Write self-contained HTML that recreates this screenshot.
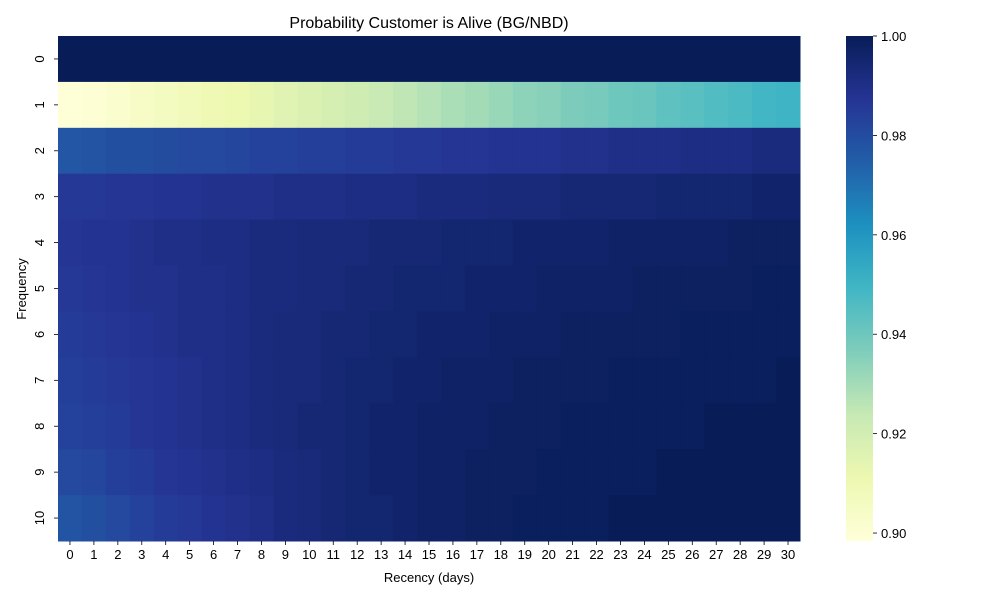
<!DOCTYPE html>
<html><head><meta charset="utf-8"><style>
body{margin:0;background:#fff;font-family:"Liberation Sans","DejaVu Sans",sans-serif}
</style></head><body>
<svg id="chart" width="1000" height="600" xmlns="http://www.w3.org/2000/svg" font-family="Liberation Sans, DejaVu Sans, sans-serif">
<text x="429" y="28" font-size="16" text-anchor="middle">Probability Customer is Alive (BG/NBD)</text>
<g id="cells"></g>
<g id="xaxis"></g>
<g id="yaxis"></g>
<text x="429" y="582" font-size="13" text-anchor="middle">Recency (days)</text>
<text transform="translate(26,289) rotate(-90)" font-size="13" text-anchor="middle">Frequency</text>
<defs><linearGradient id="cbg" x1="0" y1="1" x2="0" y2="0">
<stop offset="0" stop-color="#ffffd9"/><stop offset="0.125" stop-color="#edf8b1"/><stop offset="0.25" stop-color="#c7e9b4"/><stop offset="0.375" stop-color="#7fcdbb"/><stop offset="0.5" stop-color="#41b6c4"/><stop offset="0.625" stop-color="#1d91c0"/><stop offset="0.75" stop-color="#225ea8"/><stop offset="0.875" stop-color="#253494"/><stop offset="1" stop-color="#081d58"/>
</linearGradient></defs>
<rect x="846" y="36" width="27" height="505" fill="url(#cbg)"/>
<g id="cbticks"></g>
</svg>
<script>
const rowLabels=["0","1","2","3","4","5","6","7","8","9","10"];
const colLabels=Array.from({length:31},(_,i)=>String(i));
const cbTicks=[0.90,0.92,0.94,0.96,0.98,1.00];
const row0=[1,1,1,1,1,1,1,1,1,1,1,1,1,1,1,1,1,1,1,1,1,1,1,1,1,1,1,1,1,1,1];
const row1=[0.899,0.900,0.902,0.904,0.906,0.908,0.910,0.911,0.913,0.915,0.917,0.919,0.921,0.923,0.925,0.927,0.929,0.930,0.932,0.934,0.935,0.937,0.938,0.940,0.941,0.943,0.944,0.946,0.947,0.949,0.950];
const row2=[0.977,0.978,0.979,0.979,0.980,0.981,0.981,0.982,0.983,0.983,0.984,0.984,0.985,0.985,0.986,0.986,0.987,0.987,0.988,0.988,0.988,0.989,0.989,0.990,0.990,0.990,0.991,0.991,0.991,0.992,0.992];
const row3=[0.986,0.986,0.987,0.987,0.988,0.988,0.989,0.989,0.989,0.990,0.990,0.990,0.991,0.991,0.991,0.992,0.992,0.992,0.993,0.993,0.993,0.994,0.994,0.994,0.994,0.995,0.995,0.995,0.995,0.996,0.996];
const row4=[0.987,0.988,0.988,0.989,0.990,0.990,0.991,0.991,0.992,0.992,0.993,0.993,0.993,0.994,0.994,0.994,0.995,0.995,0.995,0.996,0.996,0.996,0.996,0.997,0.997,0.997,0.997,0.997,0.998,0.998,0.998];
const row5=[0.986,0.987,0.988,0.989,0.989,0.990,0.990,0.991,0.992,0.992,0.993,0.993,0.994,0.994,0.995,0.995,0.995,0.996,0.996,0.996,0.997,0.997,0.997,0.997,0.998,0.998,0.998,0.998,0.998,0.999,0.999];
const row6=[0.985,0.986,0.987,0.988,0.989,0.990,0.990,0.991,0.992,0.993,0.993,0.994,0.994,0.995,0.995,0.996,0.996,0.996,0.997,0.997,0.997,0.998,0.998,0.998,0.998,0.998,0.999,0.999,0.999,0.999,0.999];
const row7=[0.984,0.985,0.986,0.987,0.988,0.989,0.990,0.991,0.992,0.993,0.993,0.994,0.995,0.995,0.996,0.996,0.997,0.997,0.997,0.998,0.998,0.998,0.998,0.999,0.999,0.999,0.999,0.999,0.999,0.999,1.000];
const row8=[0.983,0.984,0.985,0.987,0.988,0.989,0.990,0.991,0.992,0.993,0.994,0.994,0.995,0.996,0.996,0.997,0.997,0.997,0.998,0.998,0.998,0.999,0.999,0.999,0.999,0.999,0.999,1.000,1.000,1.000,1.000];
const row9=[0.981,0.982,0.984,0.985,0.987,0.988,0.989,0.990,0.991,0.992,0.993,0.994,0.995,0.996,0.996,0.997,0.997,0.998,0.998,0.998,0.999,0.999,0.999,0.999,0.999,1.000,1.000,1.000,1.000,1.000,1.000];
const row10=[0.978,0.979,0.981,0.983,0.985,0.986,0.988,0.989,0.990,0.992,0.993,0.994,0.995,0.995,0.996,0.997,0.997,0.998,0.998,0.999,0.999,0.999,0.999,1.000,1.000,1.000,1.000,1.000,1.000,1.000,1.000];
const values=[row0,row1,row2,row3,row4,row5,row6,row7,row8,row9,row10];
const vmin=0.8984, vmax=1.0;
const X0=58,X1=800,Y0=36,Y1=541;
const cw=(X1-X0)/colLabels.length, ch=(Y1-Y0)/rowLabels.length;
const xPos=i=>X0+i*cw, yPos=j=>Y0+j*ch;
const cbY=v=>Y1-(v-vmin)/(vmax-vmin)*(Y1-Y0);
const stops=["#ffffd9","#edf8b1","#c7e9b4","#7fcdbb","#41b6c4","#1d91c0","#225ea8","#253494","#081d58"].map(h=>[1,3,5].map(k=>parseInt(h.substr(k,2),16)));
function color(v){let t=Math.max(0,Math.min(1,(v-vmin)/(vmax-vmin)))*8;let i=Math.min(7,Math.floor(t)),f=t-i;
const c=stops[i].map((a,k)=>Math.round(a+(stops[i+1][k]-a)*f));return `rgb(${c})`;}
const NS="http://www.w3.org/2000/svg";
function mk(tag,attrs,parent){const e=document.createElementNS(NS,tag);for(const k in attrs)e.setAttribute(k,attrs[k]);parent.appendChild(e);return e;}
const cells=document.getElementById('cells');
values.forEach((row,j)=>row.forEach((v,i)=>{
const r=mk('rect',{x:xPos(i),y:yPos(j),width:cw+0.5,height:ch+0.5,fill:color(v)},cells);


}));
const xa=document.getElementById('xaxis');
colLabels.forEach((l,i)=>{const cx=xPos(i)+cw/2;
mk('line',{x1:cx,x2:cx,y1:Y1,y2:Y1+4,stroke:'#000','stroke-width':0.8},xa);
const t=mk('text',{x:cx,y:Y1+18,'font-size':13,'text-anchor':'middle'},xa);t.textContent=l;

});
const ya=document.getElementById('yaxis');
rowLabels.forEach((l,j)=>{const cy=yPos(j)+ch/2;
mk('line',{x1:X0-4,x2:X0,y1:cy,y2:cy,stroke:'#000','stroke-width':0.8},ya);
const t=mk('text',{x:0,y:0,'font-size':13,'text-anchor':'middle',transform:`translate(44,${cy}) rotate(-90)`},ya);t.textContent=l;

});
const cb=document.getElementById('cbticks');
cbTicks.forEach(v=>{const y=cbY(v);
mk('line',{x1:873,x2:877,y1:y,y2:y,stroke:'#000','stroke-width':0.8},cb);
const t=mk('text',{x:881,y:y+5,'font-size':13},cb);t.textContent=v.toFixed(2);

});
</script>
</body></html>
